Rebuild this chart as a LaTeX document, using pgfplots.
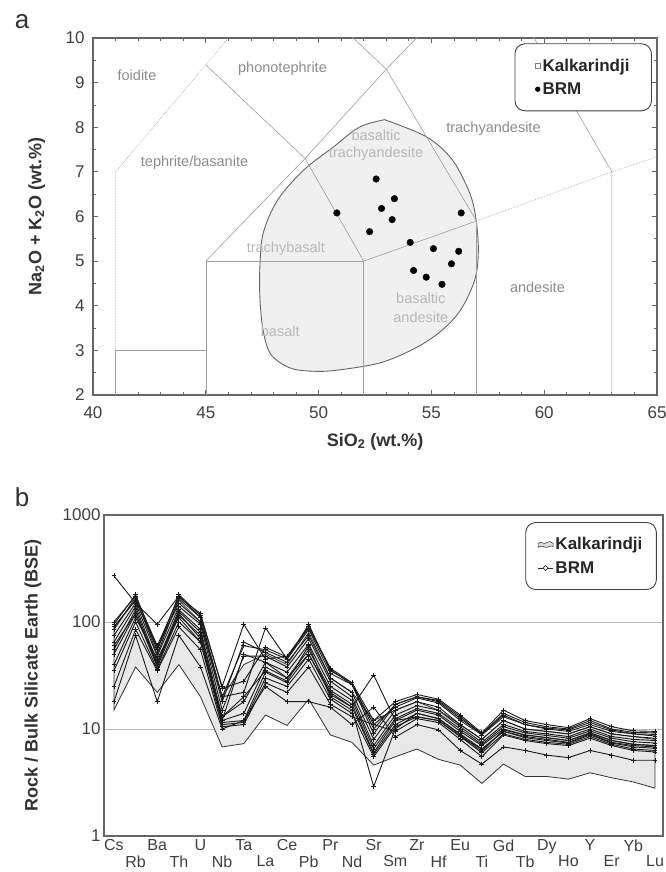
\documentclass[border=0pt]{standalone}
\usepackage{fontspec}
\setmainfont{Liberation Sans}
\usepackage{pgfplots}
\usepackage{pgfplotstable}
\pgfplotsset{compat=1.18}

% BRM spider-diagram samples (BSE normalised), one column per sample
\pgfplotstableread{
x  el L1   L2   L3   L4   L5   L6   L7   L8   L9   L10  L11  L12  L13  L14
0  Cs 270  95   85   60   40   90   75   65   55   50   35   25   18   100
1  Rb 150  180  170  120  110  160  150  140  130  120  100  85   75   175
2  Ba 95   55   50   40   45   58   48   42   40   38   36   35   18   60
3  Th 175  180  165  120  110  150  140  130  125  115  100  90   75   170
4  U  110  115  110  70   65   100  95   85   80   75   65   55   38   120
5  Nb 20   25   20   12   13   18   15   13   12   11.5 11   10.5 10   24
6  Ta 60   95   22   50   20   65   48   18   14   12   11.5 11   12   28
7  La 55   45   88   42   35   52   48   42   38   34   30   27   25   58
8  Ce 45   48   45   30   28   42   38   34   30   27   25   22   18   47
9  Pb 95   90   85   50   60   75   70   62   55   50   45   38   18   88
10 Pr 35   37   33   22   20   30   28   25   23   21   19   17   16   36
11 Nd 27   27   26   16   15   22   20   18.5 17   16   14   13   11   26
12 Sr 10   12   11   32   2.9  8    7    6.5  6    5.8  5.5  11   16   9
13 Sm 17   18   16   12   10   15   13.5 12.5 12   11   10.5 9.5  8.4  17
14 Zr 20   21   19.5 13   14   18   16.5 15.5 15   14   13   12.5 11   20
15 Hf 18   19   17.5 12   12.5 16   15   14   13.5 12.5 12   11.5 9.8  18.5
16 Eu 12.5 13.5 12   8.5  8.8  11   10.5 10   9.5  9    8.5  8    6.3  13
17 Ti 9    9.2  8.8  6.5  6.2  8    7.5  7.2  7    6.5  6    5.5  4.7  9
18 Gd 14   15   13   9.5  9.8  12   11   10.5 10   9.5  9    8.8  6.8  13.5
19 Tb 11.5 12   11   8.5  8.8  10   9.5  9.2  8.8  8.3  8    7.8  6.3  11
20 Dy 10.5 11   10.2 8    8.3  9.5  9    8.7  8.3  7.8  7.5  7.3  5.7  10
21 Ho 10   10.3 9.8  7.5  7.8  9    8.5  8.2  7.8  7.4  7.2  7    5.4  9.5
22 Y  12   12.5 11.5 9    9.2  10.5 10   9.6  9.2  8.8  8.5  8.2  6.3  11
23 Er 10   10.5 9.8  7.5  7.8  9    8.5  8.2  7.8  7.4  7.2  7    5.7  9.5
24 Yb 9.3  9.6  9    7    7.2  8.5  8    7.6  7.2  6.8  6.5  6.3  5.1  9
25 Lu 9.2  9.5  8.9  6.8  7    8.2  7.8  7.4  7    6.6  6.3  6.1  5.1  8.6
}\brmdata

\definecolor{frame}{gray}{0.4}
\definecolor{bound}{gray}{0.62}
\definecolor{lblout}{gray}{0.55}
\definecolor{lblin}{gray}{0.72}
\definecolor{field}{gray}{0.94}

\tikzset{reg/.style={font=\fontsize{14.5}{16}\selectfont, text=#1}}

\pgfplotsset{
  every axis/.append style={
    scale only axis,
    axis line style={draw=frame, line width=1.2pt},
    tick style={frame, line width=0.8pt},
    ticklabel style={font=\fontsize{17}{19}\selectfont, text=black!75},
    /pgf/number format/assume math mode=true,
    label style={font=\bfseries\fontsize{18}{20}\selectfont, text=black!80},
    legend style={font=\bfseries\fontsize{17}{20}\selectfont, text=black!85,
      draw=black!75, line width=0.9pt, rounded corners=10pt,
      inner ysep=13pt, row sep=6pt, cells={anchor=west}},
  },
}

\begin{document}
\begin{tikzpicture}
\path[use as bounding box] (0pt,0pt) rectangle (666pt,872pt);

\node[font=\fontsize{26}{28}\selectfont, text=black!80] at (22pt,850pt) {a};
\node[font=\fontsize{26}{28}\selectfont, text=black!80] at (22pt,375pt) {b};

% ---------------- (a) TAS diagram ----------------
\begin{axis}[
  at={(93pt,477pt)}, anchor=south west,
  width=564pt, height=357pt,
  xmin=40, xmax=65, ymin=2, ymax=10,
  xtick={40,45,...,65}, minor x tick num=4,
  ytick={2,...,10}, minor y tick num=1,
  tick align=inside, tick pos=both,
  major tick length=5pt, minor tick length=3pt,
  xticklabel style={yshift=-8pt},
  yticklabel style={xshift=-5pt},
  xlabel={SiO\textsubscript{2} (wt.\%)},
  ylabel={Na\textsubscript{2}O + K\textsubscript{2}O (wt.\%)},
  x label style={at={(axis description cs:0.5,-0.13)}, anchor=center},
  y label style={at={(axis description cs:-0.1,0.5)}, anchor=center},
  legend style={at={(axis description cs:0.991,0.985)}, anchor=north east,
    inner xsep=20pt},
]
% Kalkarindji field
\addplot[forget plot, smooth, tension=0.55, draw=black!60, line width=0.9pt, fill=field]
  coordinates {(52.92,8.17) (54.8,7.78) (55.94,7.26) (56.7,6.52) (56.98,5.93)
  (57.08,5.19) (56.89,4.53) (56.13,3.79) (54.8,3.2) (52.92,2.75) (51.04,2.57)
  (49.9,2.53) (48.77,2.6) (47.9,2.9) (47.55,3.42) (47.4,4.16) (47.4,4.9)
  (47.55,5.64) (48.2,6.38) (49.34,7.04) (50.66,7.56) (51.8,8.0) (52.92,8.17)};

% TAS field boundaries
\addplot[forget plot, bound, line width=0.6pt] coordinates {(41,2) (41,3) (45,3)};
\addplot[forget plot, bound, line width=0.6pt, densely dotted] coordinates {(41,3) (41,7) (46,10)};
\addplot[forget plot, bound, line width=0.6pt] coordinates {(45,2) (45,5) (52,5) (52,2)};
\addplot[forget plot, bound, line width=0.6pt] coordinates {(45,9.4) (49.4,7.3) (52,5)};
\addplot[forget plot, bound, line width=0.6pt] coordinates {(45,5) (49.4,7.3) (53,9.3) (57.6,11.7)};
\addplot[forget plot, bound, line width=0.6pt] coordinates {(48.4,11.5) (53,9.3) (57,5.9)};
\addplot[forget plot, bound, line width=0.6pt] coordinates {(52,5) (57,5.9) (57,2)};
\addplot[forget plot, bound, line width=0.6pt, densely dotted] coordinates {(57,5.9) (63,7) (69,8)};
\addplot[forget plot, bound, line width=0.6pt] coordinates {(57.6,11.7) (63,7) (63,2)};

\node[reg=lblout] at (axis cs:41.95,9.17) {foidite};
\node[reg=lblout] at (axis cs:48.4,9.3) {phonotephrite};
\node[reg=lblout] at (axis cs:44.5,7.2) {tephrite/basanite};
\node[reg=lblout] at (axis cs:57.75,7.97) {trachyandesite};
\node[reg=lblout] at (axis cs:59.7,4.42) {andesite};
\node[reg=lblin] at (axis cs:52.55,7.82) {basaltic};
\node[reg=lblin] at (axis cs:52.55,7.41) {trachyandesite};
\node[reg=lblin] at (axis cs:48.55,5.28) {trachybasalt};
\node[reg=lblin] at (axis cs:48.3,3.43) {basalt};
\node[reg=lblin] at (axis cs:54.53,4.17) {basaltic};
\node[reg=lblin] at (axis cs:54.53,3.75) {andesite};

% BRM samples
\addplot[forget plot, only marks, mark=*, mark size=3.3pt, black, draw=none]
  coordinates {(52.55,6.84) (53.36,6.40) (52.79,6.18) (53.26,5.93) (50.81,6.08)
  (52.26,5.66) (56.32,6.08) (54.06,5.42) (55.09,5.28) (56.21,5.22) (55.89,4.94)
  (54.21,4.79) (54.77,4.64) (55.47,4.48)};

\addlegendimage{legend image code/.code={
  \draw[sharp corners, black!50, fill=white, line width=0.6pt] (0pt,-2.5pt) rectangle (5pt,2pt);}}
\addlegendentry{Kalkarindji}
\addlegendimage{legend image code/.code={\fill[black] (2.5pt,0pt) circle (2.2pt);}}
\addlegendentry{BRM}
\end{axis}

% ---------------- (b) spider diagram ----------------
\begin{axis}[
  at={(104pt,36pt)}, anchor=south west,
  width=559pt, height=321pt,
  ymode=log, ymin=1, ymax=1000,
  ytick={1,10,100,1000}, yticklabels={1,10,100,1000},
  ymajorgrids, grid style={gray!55, line width=0.8pt},
  major tick length=0pt, minor tick length=0pt,
  xmin=-0.46, xmax=25.37,
  xtick={0,2,...,24},
  xticklabels={Cs,Ba,U,Ta,Ce,Pr,Sr,Zr,Eu,Gd,Dy,Y,Yb},
  extra x ticks={1,3,...,25},
  extra x tick labels={Rb,Th,Nb,La,Pb,Nd,Sm,Hf,Ti,Tb,Ho,Er,Lu},
  extra x tick style={xticklabel style={yshift=-16pt}},
  xticklabel style={font=\fontsize{16}{18}\selectfont},
  ylabel={Rock / Bulk Silicate Earth (BSE)},
  y label style={at={(axis description cs:-0.127,0.5)}, anchor=center},
  legend style={at={(axis description cs:0.989,0.978)}, anchor=north east,
    inner xsep=12pt},
]
% Kalkarindji field: lower envelope then upper envelope back
\addplot[forget plot, fill=gray!18, draw=black!80, line width=0.8pt] coordinates {
  (0,15) (1,38) (2,22) (3,40) (4,20) (5,6.8) (6,7.3) (7,13.5) (8,10.8) (9,19)
  (10,8.8) (11,7.5) (12,4.6) (13,5.5) (14,6.5) (15,5.2) (16,4.6) (17,3.1)
  (18,4.7) (19,3.6) (20,3.6) (21,3.4) (22,3.9) (23,3.5) (24,3.2) (25,2.8)
  (25,8) (24,8.5) (23,9) (22,10.5) (21,9) (20,9.5) (19,10) (18,12) (17,8)
  (16,11) (15,15) (14,18) (13,15) (12,12) (11,22) (10,30) (9,80) (8,40)
  (7,50) (6,40) (5,20) (4,100) (3,160) (2,55) (1,160) (0,90)} --cycle;

\pgfplotsinvokeforeach{1,...,14}{
  \addplot[forget plot, black!90, line width=0.9pt, mark=+, mark size=2.4pt,
    mark options={line width=0.8pt}] table[x=x, y=L#1] {\brmdata};
}

\addlegendimage{legend image code/.code={
  \draw[sharp corners, black!75, fill=gray!25, line width=0.6pt]
    (0pt,1pt) .. controls (3pt,4pt) and (6pt,-1pt) .. (9pt,2pt)
    .. controls (11pt,3.5pt) and (13pt,3pt) .. (15pt,1pt) -- (15pt,-2pt)
    .. controls (12pt,0pt) and (9pt,-5pt) .. (5pt,-2pt)
    .. controls (3pt,-1pt) and (1pt,-2pt) .. (0pt,-3pt) -- cycle;}}
\addlegendentry{Kalkarindji}
\addlegendimage{legend image code/.code={
  \draw[sharp corners, black!80, line width=0.7pt] (0pt,0pt) -- (15pt,0pt);
  \draw[sharp corners, black!80, line width=0.7pt, fill=white]
    (7.5pt,-2.5pt) -- (10pt,0pt) -- (7.5pt,2.5pt) -- (5pt,0pt) -- cycle;}}
\addlegendentry{BRM}
\end{axis}
\end{tikzpicture}
\end{document}
